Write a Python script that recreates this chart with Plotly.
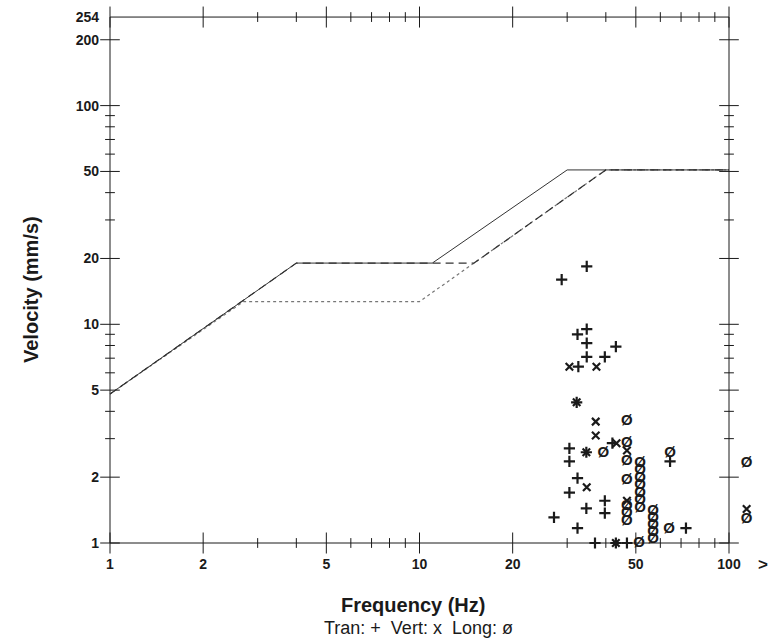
import numpy as np
import plotly.graph_objects as go

# ---- damage criteria curves (frequency Hz, peak particle velocity mm/s) ----
crit_solid_freq = [1, 4, 11, 30, 100]
crit_solid_vel = [4.8, 19.05, 19.05, 50.8, 50.8]
crit_dash_freq = [1, 4, 15, 40, 100]
crit_dash_vel = [4.8, 19.05, 19.05, 50.8, 50.8]
crit_dot_freq = [1, 2.7, 10, 40, 100]
crit_dot_vel = [4.8, 12.7, 12.7, 50.8, 50.8]

# ---- monitored events ----
tran_freq = [34.7, 28.8, 34.7, 32.4, 34.7, 43.1, 34.7, 39.7, 32.6, 32.2, 30.5, 34.6, 42.0,
             64.5, 30.5, 32.4, 30.5, 34.6, 39.7, 39.7, 27.2, 32.4, 72.6, 36.9, 43.1, 46.8]
tran_vel = [18.4, 16.0, 9.5, 9.0, 8.2, 7.9, 7.1, 7.1, 6.4, 4.4, 2.71, 2.6, 2.86,
            2.36, 2.36, 1.98, 1.70, 1.44, 1.56, 1.37, 1.31, 1.17, 1.17, 1.0, 1.0, 1.0]

vert_freq = [30.5, 37.3, 32.2, 37.1, 37.1, 34.6, 43.3, 46.8, 34.7, 46.8, 43.1]
vert_vel = [6.4, 6.4, 4.4, 3.59, 3.1, 2.6, 2.86, 2.65, 1.8, 1.56, 1.0]

long_freq = [46.8, 39.3, 46.8, 46.8, 46.8, 46.8, 46.8, 46.8,
             51.6, 51.6, 51.6, 51.6, 51.6, 51.6, 51.6,
             56.9, 56.9, 56.9, 56.9, 56.9,
             64.5, 64.0, 51.2]
long_vel = [3.59, 2.57, 2.86, 2.36, 1.94, 1.47, 1.37, 1.26,
            2.32, 2.145, 1.98, 1.83, 1.69, 1.565, 1.445,
            1.40, 1.30, 1.21, 1.12, 1.04,
            2.57, 1.15, 1.0]

# events above 100 Hz, shown in the ">" column
over_vert_vel = [1.43]
over_long_vel = [2.32, 1.28]
OVER_FREQ = 114  # plotting position of the ">100 Hz" column

# ---- axis ticks ----
x_major = [1, 2, 5, 10, 20, 50, 100]
x_minor = [3, 4, 6, 7, 8, 9, 30, 40, 60, 70, 80, 90]
x_labels = ["1", "2", "5", "10", "20", "50", "100"]
y_major = [1, 2, 5, 10, 20, 50, 100, 200]
y_minor = [3, 4, 6, 7, 8, 9, 30, 40, 60, 70, 80, 90]
y_tickvals = [1, 2, 5, 10, 20, 50, 100, 200, 254]
y_labels = ["1", "2", "5", "10", "20", "50", "100", "200", "254"]
X_MIN, X_MAX = 1, 100
Y_MIN, Y_MAX = 1, 254

INK = "#1a1a1a"
FONT = "Liberation Sans, Arial, sans-serif"

fig = go.Figure()

# frame
for xs, ys in [([X_MIN, X_MAX], [Y_MIN, Y_MIN]), ([X_MIN, X_MAX], [Y_MAX, Y_MAX]),
               ([X_MIN, X_MIN], [Y_MIN, Y_MAX]), ([X_MAX, X_MAX], [Y_MIN, Y_MAX])]:
    fig.add_trace(go.Scatter(x=xs, y=ys, mode="lines", line=dict(color=INK, width=1),
                             hoverinfo="skip", showlegend=False))

# tick marks crossing the frame lines
def tick_trace(xs, ys, symbol, size):
    return go.Scatter(x=xs, y=ys, mode="markers", cliponaxis=False, hoverinfo="skip",
                      showlegend=False,
                      marker=dict(symbol=symbol, size=size, color=INK,
                                  line=dict(color=INK, width=1)))

for yv in (Y_MIN, Y_MAX):
    fig.add_trace(tick_trace(x_major, [yv] * len(x_major), "line-ns", 15))
    fig.add_trace(tick_trace(x_minor, [yv] * len(x_minor), "line-ns", 7))
for xv in (X_MIN, X_MAX):
    fig.add_trace(tick_trace([xv] * len(y_major), y_major, "line-ew", 14))
    fig.add_trace(tick_trace([xv] * len(y_minor), y_minor, "line-ew", 7))

# criteria curves
fig.add_trace(go.Scatter(x=crit_dot_freq, y=crit_dot_vel, mode="lines",
                         line=dict(color="#777777", width=1.2, dash="dot"),
                         hoverinfo="skip", showlegend=False))
fig.add_trace(go.Scatter(x=crit_dash_freq, y=crit_dash_vel, mode="lines",
                         line=dict(color="#333333", width=1.2, dash="8px,5px"),
                         hoverinfo="skip", showlegend=False))
fig.add_trace(go.Scatter(x=crit_solid_freq, y=crit_solid_vel, mode="lines",
                         line=dict(color="#333333", width=1),
                         hoverinfo="skip", showlegend=False))

# event markers
fig.add_trace(go.Scatter(x=tran_freq, y=tran_vel, mode="markers", name="Tran",
                         cliponaxis=False, showlegend=False,
                         marker=dict(symbol="cross-thin", size=8, color=INK,
                                     line=dict(color=INK, width=2.2))))
fig.add_trace(go.Scatter(x=vert_freq + [OVER_FREQ] * len(over_vert_vel),
                         y=vert_vel + over_vert_vel, mode="markers", name="Vert",
                         cliponaxis=False, showlegend=False,
                         marker=dict(symbol="x-thin", size=7.5, color=INK,
                                     line=dict(color=INK, width=2.2))))
fig.add_trace(go.Scatter(x=long_freq + [OVER_FREQ] * len(over_long_vel),
                         y=long_vel + over_long_vel, mode="text", name="Long",
                         text=["Ø"] * (len(long_freq) + len(over_long_vel)),
                         textposition="middle center", cliponaxis=False, showlegend=False,
                         textfont=dict(family=FONT, size=15, color=INK, weight="bold")))

X_DECADE = 309.5
Y_DECADE = 218.7
PLOT_L, PLOT_R, PLOT_T, PLOT_B = 100, 770, 8, 552
X0_PX, Y0_PX = 110, 543


def px_x(p):
    return (p - PLOT_L) / (PLOT_R - PLOT_L)


def px_y(p):
    return (PLOT_B - p) / (PLOT_B - PLOT_T)


def label(text, x, y, size, angle=0):
    return dict(text=text, xref="paper", yref="paper", x=px_x(x), y=px_y(y),
                xanchor="center", yanchor="middle", textangle=angle, showarrow=False,
                font=dict(size=size, family=FONT, color=INK))


fig.update_layout(
    width=778, height=644,
    margin=dict(l=PLOT_L, r=778 - PLOT_R, t=PLOT_T, b=644 - PLOT_B),
    paper_bgcolor="white", plot_bgcolor="white",
    xaxis=dict(type="log",
               range=[(PLOT_L - X0_PX) / X_DECADE, (PLOT_R - X0_PX) / X_DECADE],
               tickvals=x_major, ticktext=x_labels, ticks="", showgrid=False,
               zeroline=False, showline=False, ticklabelstandoff=2,
               tickfont=dict(family=FONT, size=14, color=INK, weight="bold")),
    yaxis=dict(type="log",
               range=[-(PLOT_B - Y0_PX) / Y_DECADE, (Y0_PX - PLOT_T) / Y_DECADE],
               tickvals=y_tickvals, ticktext=y_labels, ticks="", showgrid=False,
               zeroline=False, showline=False, ticklabelstandoff=0,
               tickfont=dict(family=FONT, size=14, color=INK, weight="bold")),
    font=dict(family=FONT, color=INK),
    annotations=[
        label("<b>&gt;</b>", 763, 564, 17),
        label("<b>Frequency (Hz)</b>", 413, 605, 20),
        label("Tran: +  Vert: x  Long: ø", 418, 628, 18),
        label("<b>Velocity (mm/s)</b>", 31, 290, 20, angle=-90),
    ],
)

fig.write_html("out.html")
